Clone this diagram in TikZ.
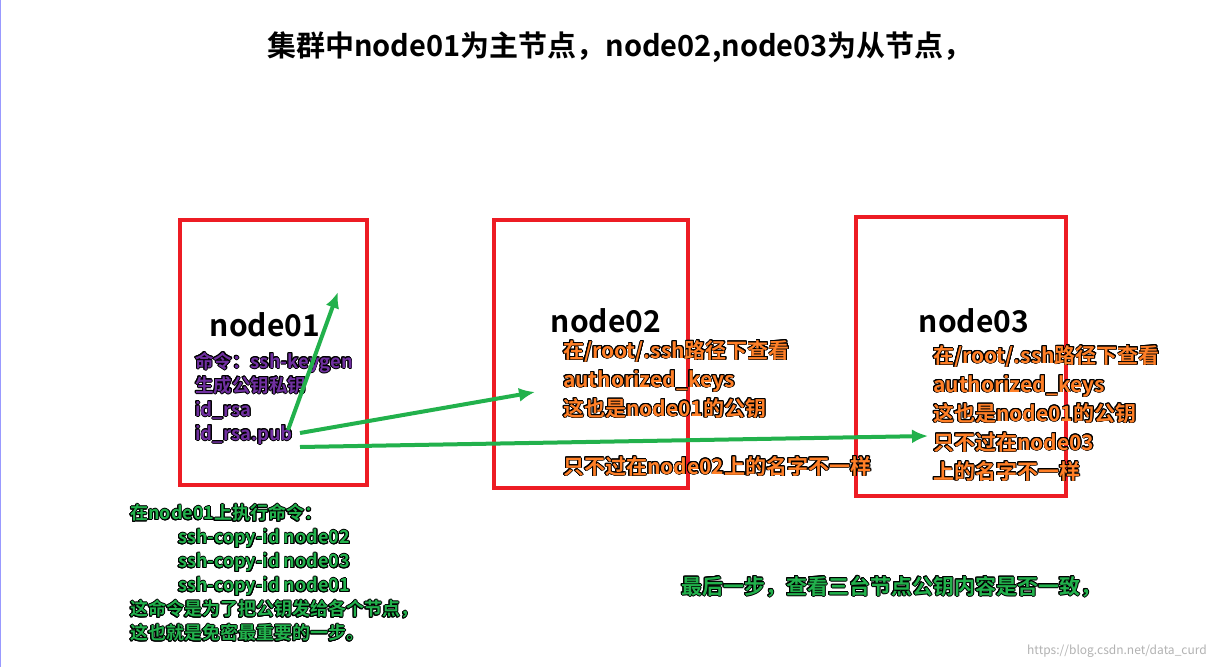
\documentclass[tikz,border=0pt]{standalone}
\usetikzlibrary{arrows.meta}
\usepackage{fontspec}
\setmainfont{Noto Sans CJK SC}[BoldFont={* Bold}]
\usepackage{contour}
\contourlength{0.8pt}
\contournumber{16}
\definecolor{rb}{RGB}{237,28,36}
\definecolor{gr}{RGB}{34,177,76}
\definecolor{pu}{RGB}{112,48,160}
\definecolor{orr}{RGB}{255,127,39}
\begin{document}
\begin{tikzpicture}[x=1pt,y=-1pt,
  box/.style={draw=rb,line width=4.5pt},
  arr/.style={gr,line width=4pt,-{Latex[length=16pt,width=14pt]}},
  lab/.style 2 args={anchor=west,inner sep=0pt,align=left,font=\bfseries\fontsize{#1}{#2}\selectfont},
  ttl/.style={font=\bfseries\fontsize{30}{34}\selectfont,inner sep=0pt}]
\useasboundingbox (0,0) rectangle (1215,667);
\fill[white] (0,0) rectangle (1215,667);
\draw[blue!40,line width=1pt] (0.5,0) -- (0.5,667);
\node[ttl,font=\bfseries\fontsize{29}{32}\selectfont] (title) at (620,48) {\contour{white}{集群中node01为主节点，node02,node03为从节点，}};
\draw[box] (180,220) rectangle (367,485);
\draw[box] (494,220) rectangle (688,488);
\draw[box] (856,217) rectangle (1066,496);
\node[ttl] (n1) at (265,325) {node01};
\node[ttl] (n2) at (606,321) {node02};
\node[ttl] (n3) at (974,321) {node03};
\node[lab={18.5}{24},anchor=north west] (p) at (195,352) {%
\contour{black}{\textcolor{pu}{命令：ssh-keygen}}\\
\contour{black}{\textcolor{pu}{生成公钥私钥}}\\
\contour{black}{\textcolor{pu}{id\_rsa}}\\
\contour{black}{\textcolor{pu}{id\_rsa.pub}}};
\node[lab={21}{29},anchor=north west] (o2) at (563,340) {%
\contour{black}{\textcolor{orr}{在/root/.ssh路径下查看}}\\
\contour{black}{\textcolor{orr}{authorized\_keys}}\\
\contour{black}{\textcolor{orr}{这也是node01的公钥}}\\[29pt]
\contour{black}{\textcolor{orr}{只不过在node02上的名字不一样}}};
\node[lab={21}{29},anchor=north west] (o3) at (933,345) {%
\contour{black}{\textcolor{orr}{在/root/.ssh路径下查看}}\\
\contour{black}{\textcolor{orr}{authorized\_keys}}\\
\contour{black}{\textcolor{orr}{这也是node01的公钥}}\\
\contour{black}{\textcolor{orr}{只不过在node03}}\\
\contour{black}{\textcolor{orr}{上的名字不一样}}};
\node[lab={18}{24},anchor=north west] (g) at (130,504) {%
\contour{black}{\textcolor{gr}{在node01上执行命令：}}\\
\hspace*{48pt}\contour{black}{\textcolor{gr}{ssh-copy-id node02}}\\
\hspace*{48pt}\contour{black}{\textcolor{gr}{ssh-copy-id node03}}\\
\hspace*{48pt}\contour{black}{\textcolor{gr}{ssh-copy-id node01}}\\
\contour{black}{\textcolor{gr}{这命令是为了把公钥发给各个节点，}}\\
\contour{black}{\textcolor{gr}{这也就是免密最重要的一步。}}};
\node[lab={21}{24}] (last) at (681,587) {\contour{black}{\textcolor{gr}{最后一步，查看三台节点公钥内容是否一致，}}};
\coordinate (s1) at (288,430);
\coordinate (e1) at (338,292);
\coordinate (s2) at (300,433);
\coordinate (e2) at (535,392);
\coordinate (s3) at (300,447);
\coordinate (e3) at (928,436);
\draw[arr] (s1) -- (e1);
\draw[arr] (s2) -- (e2);
\draw[arr] (s3) -- (e3);
\node[anchor=east,inner sep=0pt,text=gray!60,font=\fontsize{12}{14}\selectfont] (wm) at (1207,651) {https://blog.csdn.net/data\_curd};
\end{tikzpicture}
\end{document}
